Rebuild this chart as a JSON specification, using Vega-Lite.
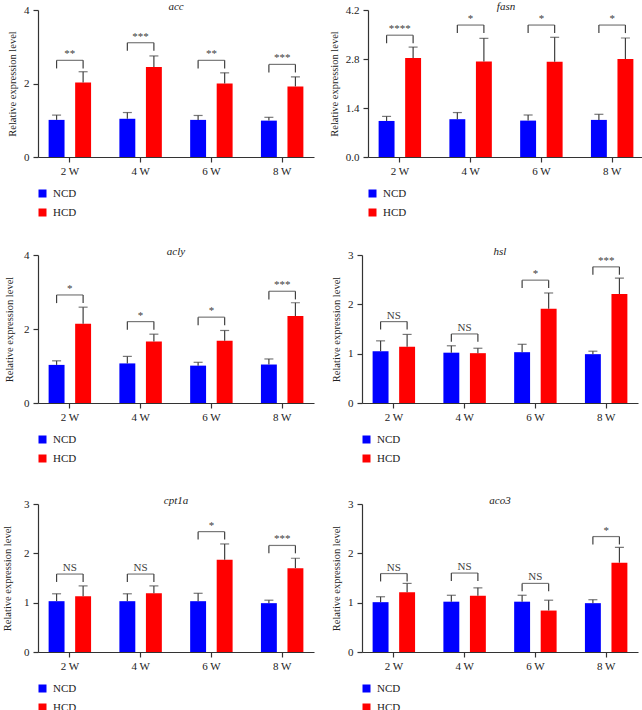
{
"$schema": "https://vega.github.io/schema/vega-lite/v6.json",
"padding": {"left": 2, "top": 1, "right": 0, "bottom": 0},
"data": {"values": [
{"g":"acc","w":"2 W","grp":"NCD","m":1.01,"hi":1.14,"top":2.63,"low":2.41,"lab":"**"},
{"g":"acc","w":"2 W","grp":"HCD","m":2.03,"hi":2.32,"top":2.63,"low":2.41,"lab":"**"},
{"g":"acc","w":"4 W","grp":"NCD","m":1.04,"hi":1.21,"top":3.11,"low":2.89,"lab":"***"},
{"g":"acc","w":"4 W","grp":"HCD","m":2.45,"hi":2.75,"top":3.11,"low":2.89,"lab":"***"},
{"g":"acc","w":"6 W","grp":"NCD","m":1.01,"hi":1.13,"top":2.63,"low":2.41,"lab":"**"},
{"g":"acc","w":"6 W","grp":"HCD","m":2.00,"hi":2.29,"top":2.63,"low":2.41,"lab":"**"},
{"g":"acc","w":"8 W","grp":"NCD","m":0.99,"hi":1.08,"top":2.52,"low":2.30,"lab":"***"},
{"g":"acc","w":"8 W","grp":"HCD","m":1.92,"hi":2.18,"top":2.52,"low":2.30,"lab":"***"},
{"g":"fasn","w":"2 W","grp":"NCD","m":1.03,"hi":1.16,"top":3.48,"low":3.25,"lab":"****"},
{"g":"fasn","w":"2 W","grp":"HCD","m":2.83,"hi":3.14,"top":3.48,"low":3.25,"lab":"****"},
{"g":"fasn","w":"4 W","grp":"NCD","m":1.08,"hi":1.27,"top":3.77,"low":3.54,"lab":"*"},
{"g":"fasn","w":"4 W","grp":"HCD","m":2.73,"hi":3.39,"top":3.77,"low":3.54,"lab":"*"},
{"g":"fasn","w":"6 W","grp":"NCD","m":1.04,"hi":1.20,"top":3.77,"low":3.54,"lab":"*"},
{"g":"fasn","w":"6 W","grp":"HCD","m":2.72,"hi":3.42,"top":3.77,"low":3.54,"lab":"*"},
{"g":"fasn","w":"8 W","grp":"NCD","m":1.06,"hi":1.22,"top":3.77,"low":3.54,"lab":"*"},
{"g":"fasn","w":"8 W","grp":"HCD","m":2.80,"hi":3.40,"top":3.77,"low":3.54,"lab":"*"},
{"g":"acly","w":"2 W","grp":"NCD","m":1.03,"hi":1.14,"top":2.92,"low":2.70,"lab":"*"},
{"g":"acly","w":"2 W","grp":"HCD","m":2.14,"hi":2.59,"top":2.92,"low":2.70,"lab":"*"},
{"g":"acly","w":"4 W","grp":"NCD","m":1.07,"hi":1.26,"top":2.20,"low":1.98,"lab":"*"},
{"g":"acly","w":"4 W","grp":"HCD","m":1.66,"hi":1.86,"top":2.20,"low":1.98,"lab":"*"},
{"g":"acly","w":"6 W","grp":"NCD","m":1.01,"hi":1.10,"top":2.32,"low":2.10,"lab":"*"},
{"g":"acly","w":"6 W","grp":"HCD","m":1.68,"hi":1.96,"top":2.32,"low":2.10,"lab":"*"},
{"g":"acly","w":"8 W","grp":"NCD","m":1.04,"hi":1.19,"top":3.02,"low":2.80,"lab":"***"},
{"g":"acly","w":"8 W","grp":"HCD","m":2.35,"hi":2.71,"top":3.02,"low":2.80,"lab":"***"},
{"g":"hsl","w":"2 W","grp":"NCD","m":1.05,"hi":1.26,"top":1.65,"low":1.49,"lab":"NS"},
{"g":"hsl","w":"2 W","grp":"HCD","m":1.14,"hi":1.39,"top":1.65,"low":1.49,"lab":"NS"},
{"g":"hsl","w":"4 W","grp":"NCD","m":1.02,"hi":1.16,"top":1.40,"low":1.24,"lab":"NS"},
{"g":"hsl","w":"4 W","grp":"HCD","m":1.01,"hi":1.11,"top":1.40,"low":1.24,"lab":"NS"},
{"g":"hsl","w":"6 W","grp":"NCD","m":1.03,"hi":1.19,"top":2.49,"low":2.33,"lab":"*"},
{"g":"hsl","w":"6 W","grp":"HCD","m":1.91,"hi":2.23,"top":2.49,"low":2.33,"lab":"*"},
{"g":"hsl","w":"8 W","grp":"NCD","m":0.99,"hi":1.05,"top":2.76,"low":2.60,"lab":"***"},
{"g":"hsl","w":"8 W","grp":"HCD","m":2.21,"hi":2.53,"top":2.76,"low":2.60,"lab":"***"},
{"g":"cpt1a","w":"2 W","grp":"NCD","m":1.03,"hi":1.18,"top":1.58,"low":1.42,"lab":"NS"},
{"g":"cpt1a","w":"2 W","grp":"HCD","m":1.13,"hi":1.34,"top":1.58,"low":1.42,"lab":"NS"},
{"g":"cpt1a","w":"4 W","grp":"NCD","m":1.03,"hi":1.18,"top":1.58,"low":1.42,"lab":"NS"},
{"g":"cpt1a","w":"4 W","grp":"HCD","m":1.19,"hi":1.34,"top":1.58,"low":1.42,"lab":"NS"},
{"g":"cpt1a","w":"6 W","grp":"NCD","m":1.03,"hi":1.19,"top":2.44,"low":2.28,"lab":"*"},
{"g":"cpt1a","w":"6 W","grp":"HCD","m":1.87,"hi":2.19,"top":2.44,"low":2.28,"lab":"*"},
{"g":"cpt1a","w":"8 W","grp":"NCD","m":0.99,"hi":1.05,"top":2.16,"low":2.00,"lab":"***"},
{"g":"cpt1a","w":"8 W","grp":"HCD","m":1.70,"hi":1.90,"top":2.16,"low":2.00,"lab":"***"},
{"g":"aco3","w":"2 W","grp":"NCD","m":1.01,"hi":1.12,"top":1.59,"low":1.43,"lab":"NS"},
{"g":"aco3","w":"2 W","grp":"HCD","m":1.21,"hi":1.39,"top":1.59,"low":1.43,"lab":"NS"},
{"g":"aco3","w":"4 W","grp":"NCD","m":1.02,"hi":1.15,"top":1.60,"low":1.44,"lab":"NS"},
{"g":"aco3","w":"4 W","grp":"HCD","m":1.14,"hi":1.30,"top":1.60,"low":1.44,"lab":"NS"},
{"g":"aco3","w":"6 W","grp":"NCD","m":1.02,"hi":1.15,"top":1.39,"low":1.23,"lab":"NS"},
{"g":"aco3","w":"6 W","grp":"HCD","m":0.84,"hi":1.05,"top":1.39,"low":1.23,"lab":"NS"},
{"g":"aco3","w":"8 W","grp":"NCD","m":0.99,"hi":1.06,"top":2.34,"low":2.18,"lab":"*"},
{"g":"aco3","w":"8 W","grp":"HCD","m":1.81,"hi":2.12,"top":2.34,"low":2.18,"lab":"*"}
]},
"spacing": 28,
"resolve": {"scale": {"color": "independent"}, "legend": {"color": "independent"}},
"vconcat": [
{"hconcat": [
{"width": 276, "height": 147, "title": {"text": "acc"},
 "transform": [{"filter": "datum.g === 'acc'"}],
 "encoding": {"x": {"field": "w", "type": "nominal", "sort": ["2 W","4 W","6 W","8 W"], "scale": {"paddingInner": 0.4, "paddingOuter": 0.15}, "axis": {"title": null, "labelAngle": 0}}},
 "layer": [
  {"mark": {"type": "bar"}, "encoding": {
    "xOffset": {"field": "grp", "type": "nominal", "sort": ["NCD","HCD"], "scale": {"paddingInner": 0.4, "paddingOuter": 0}},
    "y": {"field": "m", "type": "quantitative", "title": "Relative expression level", "scale": {"domain": [0,4], "nice": false}, "axis": {"values": [0,1,2,3,4]}},
    "color": {"field": "grp", "type": "nominal", "sort": ["NCD","HCD"], "scale": {"domain": ["NCD","HCD"], "range": ["#0000ff","#ff0000"]}, "legend": {"title": null, "legendY": 178}}}},
  {"mark": {"type": "rule", "color": "#404040", "strokeWidth": 1.2}, "encoding": {
    "xOffset": {"field": "grp", "type": "nominal", "sort": ["NCD","HCD"]},
    "y": {"field": "m", "type": "quantitative", "title": "Relative expression level", "scale": {"domain": [0,4], "nice": false}}, "y2": {"field": "hi"}}},
  {"mark": {"type": "tick", "color": "#404040", "size": 9, "thickness": 1.2}, "encoding": {
    "xOffset": {"field": "grp", "type": "nominal", "sort": ["NCD","HCD"]},
    "y": {"field": "hi", "type": "quantitative", "title": "Relative expression level", "scale": {"domain": [0,4], "nice": false}}}},
  {"transform": [{"filter": "datum.grp === 'NCD'"}], "mark": {"type": "tick", "color": "#404040", "size": 26.5, "thickness": 1.2}, "encoding": {
    "y": {"field": "top", "type": "quantitative", "title": "Relative expression level", "scale": {"domain": [0,4], "nice": false}}}},
  {"mark": {"type": "rule", "color": "#404040", "strokeWidth": 1.2}, "encoding": {
    "xOffset": {"field": "grp", "type": "nominal", "sort": ["NCD","HCD"]},
    "y": {"field": "top", "type": "quantitative", "title": "Relative expression level", "scale": {"domain": [0,4], "nice": false}}, "y2": {"field": "low"}}},
  {"transform": [{"filter": "datum.grp === 'NCD'"}], "mark": {"type": "text", "dy": -3, "baseline": "alphabetic", "fontSize": 11, "color": "#404040"}, "encoding": {
    "y": {"field": "top", "type": "quantitative", "title": "Relative expression level", "scale": {"domain": [0,4], "nice": false}}, "text": {"field": "lab"}}}
 ]},
{"width": 276, "height": 147, "title": {"text": "fasn"},
 "transform": [{"filter": "datum.g === 'fasn'"}],
 "encoding": {"x": {"field": "w", "type": "nominal", "sort": ["2 W","4 W","6 W","8 W"], "scale": {"paddingInner": 0.4, "paddingOuter": 0.15}, "axis": {"title": null, "labelAngle": 0}}},
 "layer": [
  {"mark": {"type": "bar"}, "encoding": {
    "xOffset": {"field": "grp", "type": "nominal", "sort": ["NCD","HCD"], "scale": {"paddingInner": 0.4, "paddingOuter": 0}},
    "y": {"field": "m", "type": "quantitative", "title": "Relative expression level", "scale": {"domain": [0,4.2], "nice": false}, "axis": {"values": [0,1.4,2.8,4.2], "format": ".1f"}},
    "color": {"field": "grp", "type": "nominal", "sort": ["NCD","HCD"], "scale": {"domain": ["NCD","HCD"], "range": ["#0000ff","#ff0000"]}, "legend": {"title": null, "legendY": 178}}}},
  {"mark": {"type": "rule", "color": "#404040", "strokeWidth": 1.2}, "encoding": {
    "xOffset": {"field": "grp", "type": "nominal", "sort": ["NCD","HCD"]},
    "y": {"field": "m", "type": "quantitative", "title": "Relative expression level", "scale": {"domain": [0,4.2], "nice": false}}, "y2": {"field": "hi"}}},
  {"mark": {"type": "tick", "color": "#404040", "size": 9, "thickness": 1.2}, "encoding": {
    "xOffset": {"field": "grp", "type": "nominal", "sort": ["NCD","HCD"]},
    "y": {"field": "hi", "type": "quantitative", "title": "Relative expression level", "scale": {"domain": [0,4.2], "nice": false}}}},
  {"transform": [{"filter": "datum.grp === 'NCD'"}], "mark": {"type": "tick", "color": "#404040", "size": 26.5, "thickness": 1.2}, "encoding": {
    "y": {"field": "top", "type": "quantitative", "title": "Relative expression level", "scale": {"domain": [0,4.2], "nice": false}}}},
  {"mark": {"type": "rule", "color": "#404040", "strokeWidth": 1.2}, "encoding": {
    "xOffset": {"field": "grp", "type": "nominal", "sort": ["NCD","HCD"]},
    "y": {"field": "top", "type": "quantitative", "title": "Relative expression level", "scale": {"domain": [0,4.2], "nice": false}}, "y2": {"field": "low"}}},
  {"transform": [{"filter": "datum.grp === 'NCD'"}], "mark": {"type": "text", "dy": -3, "baseline": "alphabetic", "fontSize": 11, "color": "#404040"}, "encoding": {
    "y": {"field": "top", "type": "quantitative", "title": "Relative expression level", "scale": {"domain": [0,4.2], "nice": false}}, "text": {"field": "lab"}}}
 ]}
], "spacing": 15, "resolve": {"scale": {"color": "independent"}, "legend": {"color": "independent"}}},
{"vconcat": [
{"hconcat": [
{"width": 276, "height": 148, "title": {"text": "acly"},
 "transform": [{"filter": "datum.g === 'acly'"}],
 "encoding": {"x": {"field": "w", "type": "nominal", "sort": ["2 W","4 W","6 W","8 W"], "scale": {"paddingInner": 0.4, "paddingOuter": 0.15}, "axis": {"title": null, "labelAngle": 0}}},
 "layer": [
  {"mark": {"type": "bar"}, "encoding": {
    "xOffset": {"field": "grp", "type": "nominal", "sort": ["NCD","HCD"], "scale": {"paddingInner": 0.4, "paddingOuter": 0}},
    "y": {"field": "m", "type": "quantitative", "title": "Relative expression level", "scale": {"domain": [0,4], "nice": false}, "axis": {"values": [0,1,2,3,4], "titlePadding": 9}},
    "color": {"field": "grp", "type": "nominal", "sort": ["NCD","HCD"], "scale": {"domain": ["NCD","HCD"], "range": ["#0000ff","#ff0000"]}, "legend": {"title": null, "legendY": 179}}}},
  {"mark": {"type": "rule", "color": "#404040", "strokeWidth": 1.2}, "encoding": {
    "xOffset": {"field": "grp", "type": "nominal", "sort": ["NCD","HCD"]},
    "y": {"field": "m", "type": "quantitative", "title": "Relative expression level", "scale": {"domain": [0,4], "nice": false}}, "y2": {"field": "hi"}}},
  {"mark": {"type": "tick", "color": "#404040", "size": 9, "thickness": 1.2}, "encoding": {
    "xOffset": {"field": "grp", "type": "nominal", "sort": ["NCD","HCD"]},
    "y": {"field": "hi", "type": "quantitative", "title": "Relative expression level", "scale": {"domain": [0,4], "nice": false}}}},
  {"transform": [{"filter": "datum.grp === 'NCD'"}], "mark": {"type": "tick", "color": "#404040", "size": 26.5, "thickness": 1.2}, "encoding": {
    "y": {"field": "top", "type": "quantitative", "title": "Relative expression level", "scale": {"domain": [0,4], "nice": false}}}},
  {"mark": {"type": "rule", "color": "#404040", "strokeWidth": 1.2}, "encoding": {
    "xOffset": {"field": "grp", "type": "nominal", "sort": ["NCD","HCD"]},
    "y": {"field": "top", "type": "quantitative", "title": "Relative expression level", "scale": {"domain": [0,4], "nice": false}}, "y2": {"field": "low"}}},
  {"transform": [{"filter": "datum.grp === 'NCD'"}], "mark": {"type": "text", "dy": -3, "baseline": "alphabetic", "fontSize": 11, "color": "#404040"}, "encoding": {
    "y": {"field": "top", "type": "quantitative", "title": "Relative expression level", "scale": {"domain": [0,4], "nice": false}}, "text": {"field": "lab"}}}
 ]},
{"width": 276, "height": 148, "title": {"text": "hsl"},
 "transform": [{"filter": "datum.g === 'hsl'"}],
 "encoding": {"x": {"field": "w", "type": "nominal", "sort": ["2 W","4 W","6 W","8 W"], "scale": {"paddingInner": 0.4, "paddingOuter": 0.15}, "axis": {"title": null, "labelAngle": 0}}},
 "layer": [
  {"mark": {"type": "bar"}, "encoding": {
    "xOffset": {"field": "grp", "type": "nominal", "sort": ["NCD","HCD"], "scale": {"paddingInner": 0.4, "paddingOuter": 0}},
    "y": {"field": "m", "type": "quantitative", "title": "Relative expression level", "scale": {"domain": [0,3], "nice": false}, "axis": {"values": [0,1,2,3]}},
    "color": {"field": "grp", "type": "nominal", "sort": ["NCD","HCD"], "scale": {"domain": ["NCD","HCD"], "range": ["#0000ff","#ff0000"]}, "legend": {"title": null, "legendY": 179}}}},
  {"mark": {"type": "rule", "color": "#404040", "strokeWidth": 1.2}, "encoding": {
    "xOffset": {"field": "grp", "type": "nominal", "sort": ["NCD","HCD"]},
    "y": {"field": "m", "type": "quantitative", "title": "Relative expression level", "scale": {"domain": [0,3], "nice": false}}, "y2": {"field": "hi"}}},
  {"mark": {"type": "tick", "color": "#404040", "size": 9, "thickness": 1.2}, "encoding": {
    "xOffset": {"field": "grp", "type": "nominal", "sort": ["NCD","HCD"]},
    "y": {"field": "hi", "type": "quantitative", "title": "Relative expression level", "scale": {"domain": [0,3], "nice": false}}}},
  {"transform": [{"filter": "datum.grp === 'NCD'"}], "mark": {"type": "tick", "color": "#404040", "size": 26.5, "thickness": 1.2}, "encoding": {
    "y": {"field": "top", "type": "quantitative", "title": "Relative expression level", "scale": {"domain": [0,3], "nice": false}}}},
  {"mark": {"type": "rule", "color": "#404040", "strokeWidth": 1.2}, "encoding": {
    "xOffset": {"field": "grp", "type": "nominal", "sort": ["NCD","HCD"]},
    "y": {"field": "top", "type": "quantitative", "title": "Relative expression level", "scale": {"domain": [0,3], "nice": false}}, "y2": {"field": "low"}}},
  {"transform": [{"filter": "datum.grp === 'NCD'"}], "mark": {"type": "text", "dy": -3, "baseline": "alphabetic", "fontSize": 11, "color": "#404040"}, "encoding": {
    "y": {"field": "top", "type": "quantitative", "title": "Relative expression level", "scale": {"domain": [0,3], "nice": false}}, "text": {"field": "lab"}}}
 ]}
], "spacing": 17, "resolve": {"scale": {"color": "independent"}, "legend": {"color": "independent"}}},
{"hconcat": [
{"width": 276, "height": 148, "title": {"text": "cpt1a"},
 "transform": [{"filter": "datum.g === 'cpt1a'"}],
 "encoding": {"x": {"field": "w", "type": "nominal", "sort": ["2 W","4 W","6 W","8 W"], "scale": {"paddingInner": 0.4, "paddingOuter": 0.15}, "axis": {"title": null, "labelAngle": 0}}},
 "layer": [
  {"mark": {"type": "bar"}, "encoding": {
    "xOffset": {"field": "grp", "type": "nominal", "sort": ["NCD","HCD"], "scale": {"paddingInner": 0.4, "paddingOuter": 0}},
    "y": {"field": "m", "type": "quantitative", "title": "Relative expression level", "scale": {"domain": [0,3], "nice": false}, "axis": {"values": [0,1,2,3], "titlePadding": 11}},
    "color": {"field": "grp", "type": "nominal", "sort": ["NCD","HCD"], "scale": {"domain": ["NCD","HCD"], "range": ["#0000ff","#ff0000"]}, "legend": {"title": null, "legendY": 179}}}},
  {"mark": {"type": "rule", "color": "#404040", "strokeWidth": 1.2}, "encoding": {
    "xOffset": {"field": "grp", "type": "nominal", "sort": ["NCD","HCD"]},
    "y": {"field": "m", "type": "quantitative", "title": "Relative expression level", "scale": {"domain": [0,3], "nice": false}}, "y2": {"field": "hi"}}},
  {"mark": {"type": "tick", "color": "#404040", "size": 9, "thickness": 1.2}, "encoding": {
    "xOffset": {"field": "grp", "type": "nominal", "sort": ["NCD","HCD"]},
    "y": {"field": "hi", "type": "quantitative", "title": "Relative expression level", "scale": {"domain": [0,3], "nice": false}}}},
  {"transform": [{"filter": "datum.grp === 'NCD'"}], "mark": {"type": "tick", "color": "#404040", "size": 26.5, "thickness": 1.2}, "encoding": {
    "y": {"field": "top", "type": "quantitative", "title": "Relative expression level", "scale": {"domain": [0,3], "nice": false}}}},
  {"mark": {"type": "rule", "color": "#404040", "strokeWidth": 1.2}, "encoding": {
    "xOffset": {"field": "grp", "type": "nominal", "sort": ["NCD","HCD"]},
    "y": {"field": "top", "type": "quantitative", "title": "Relative expression level", "scale": {"domain": [0,3], "nice": false}}, "y2": {"field": "low"}}},
  {"transform": [{"filter": "datum.grp === 'NCD'"}], "mark": {"type": "text", "dy": -3, "baseline": "alphabetic", "fontSize": 11, "color": "#404040"}, "encoding": {
    "y": {"field": "top", "type": "quantitative", "title": "Relative expression level", "scale": {"domain": [0,3], "nice": false}}, "text": {"field": "lab"}}}
 ]},
{"width": 276, "height": 148, "title": {"text": "aco3"},
 "transform": [{"filter": "datum.g === 'aco3'"}],
 "encoding": {"x": {"field": "w", "type": "nominal", "sort": ["2 W","4 W","6 W","8 W"], "scale": {"paddingInner": 0.4, "paddingOuter": 0.15}, "axis": {"title": null, "labelAngle": 0}}},
 "layer": [
  {"mark": {"type": "bar"}, "encoding": {
    "xOffset": {"field": "grp", "type": "nominal", "sort": ["NCD","HCD"], "scale": {"paddingInner": 0.4, "paddingOuter": 0}},
    "y": {"field": "m", "type": "quantitative", "title": "Relative expression level", "scale": {"domain": [0,3], "nice": false}, "axis": {"values": [0,1,2,3]}},
    "color": {"field": "grp", "type": "nominal", "sort": ["NCD","HCD"], "scale": {"domain": ["NCD","HCD"], "range": ["#0000ff","#ff0000"]}, "legend": {"title": null, "legendY": 179}}}},
  {"mark": {"type": "rule", "color": "#404040", "strokeWidth": 1.2}, "encoding": {
    "xOffset": {"field": "grp", "type": "nominal", "sort": ["NCD","HCD"]},
    "y": {"field": "m", "type": "quantitative", "title": "Relative expression level", "scale": {"domain": [0,3], "nice": false}}, "y2": {"field": "hi"}}},
  {"mark": {"type": "tick", "color": "#404040", "size": 9, "thickness": 1.2}, "encoding": {
    "xOffset": {"field": "grp", "type": "nominal", "sort": ["NCD","HCD"]},
    "y": {"field": "hi", "type": "quantitative", "title": "Relative expression level", "scale": {"domain": [0,3], "nice": false}}}},
  {"transform": [{"filter": "datum.grp === 'NCD'"}], "mark": {"type": "tick", "color": "#404040", "size": 26.5, "thickness": 1.2}, "encoding": {
    "y": {"field": "top", "type": "quantitative", "title": "Relative expression level", "scale": {"domain": [0,3], "nice": false}}}},
  {"mark": {"type": "rule", "color": "#404040", "strokeWidth": 1.2}, "encoding": {
    "xOffset": {"field": "grp", "type": "nominal", "sort": ["NCD","HCD"]},
    "y": {"field": "top", "type": "quantitative", "title": "Relative expression level", "scale": {"domain": [0,3], "nice": false}}, "y2": {"field": "low"}}},
  {"transform": [{"filter": "datum.grp === 'NCD'"}], "mark": {"type": "text", "dy": -3, "baseline": "alphabetic", "fontSize": 11, "color": "#404040"}, "encoding": {
    "y": {"field": "top", "type": "quantitative", "title": "Relative expression level", "scale": {"domain": [0,3], "nice": false}}, "text": {"field": "lab"}}}
 ]}
], "spacing": 17, "resolve": {"scale": {"color": "independent"}, "legend": {"color": "independent"}}}
], "spacing": 31, "resolve": {"scale": {"color": "independent"}, "legend": {"color": "independent"}}}
],
"config": {
  "font": "Liberation Serif",
  "view": {"stroke": null},
  "axis": {"grid": false, "domainColor": "#333333", "tickColor": "#333333", "labelColor": "#222222", "titleColor": "#222222", "labelFont": "Liberation Serif", "titleFont": "Liberation Serif", "labelFontSize": 11, "titleFontSize": 10.5, "titleFontWeight": "normal", "tickSize": 5, "domainWidth": 1.2, "tickWidth": 1.2},
  "axisY": {"labelPadding": 4, "titlePadding": 6},
  "axisX": {"labelPadding": 3},
  "legend": {"orient": "none", "legendX": -1, "symbolType": "square", "symbolSize": 64, "symbolStrokeWidth": 0, "labelFont": "Liberation Serif", "labelFontSize": 11, "labelColor": "#222222", "rowPadding": 7, "labelOffset": 5},
  "title": {"font": "Liberation Serif", "fontStyle": "italic", "fontWeight": "normal", "fontSize": 11, "color": "#222222", "offset": -8}
}
}
